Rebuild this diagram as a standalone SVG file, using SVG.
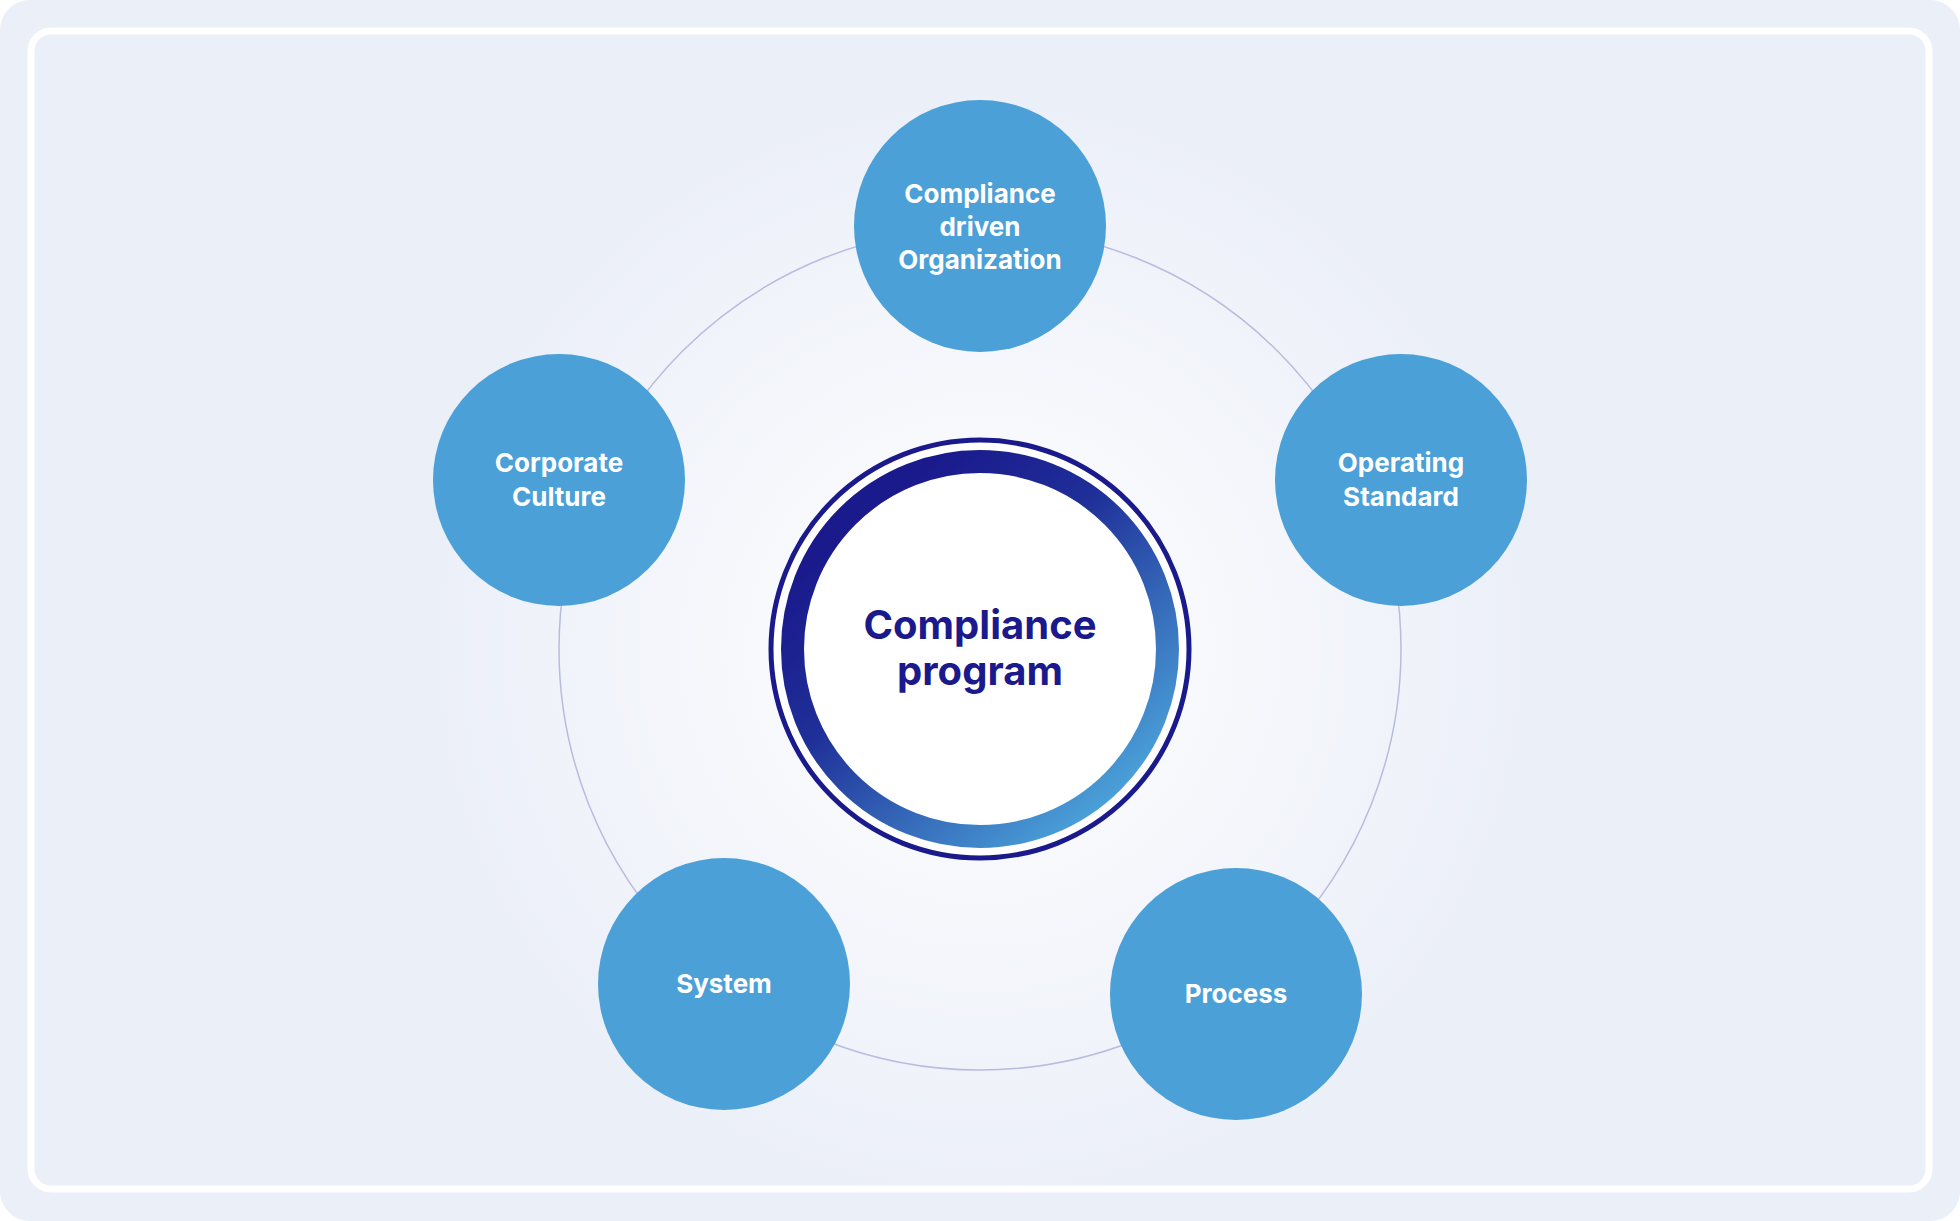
<svg xmlns="http://www.w3.org/2000/svg" width="1960" height="1221" viewBox="0 0 1960 1221">
<defs>
<radialGradient id="bg" cx="980" cy="649" r="560" gradientUnits="userSpaceOnUse">
<stop offset="0" stop-color="#ffffff"/><stop offset="1" stop-color="#ebeff8"/>
</radialGradient>
<linearGradient id="ring" x1="0.2" y1="0.15" x2="0.85" y2="0.9">
<stop offset="0" stop-color="#1a1a8c"/><stop offset="0.35" stop-color="#1f2f98"/><stop offset="1" stop-color="#4aa0d8"/>
</linearGradient>
<style>
.node{fill:#4ba0d7}
.nt{font-family:Inter,"Liberation Sans",sans-serif;font-weight:700;font-size:26px;fill:#fff;text-anchor:middle}
.ct{font-family:Inter,"Liberation Sans",sans-serif;font-weight:700;font-size:40px;fill:#1a1a8c;text-anchor:middle}
</style>
</defs>
<rect width="1960" height="1221" rx="30" fill="#ebeff8"/>
<rect x="31" y="31" width="1898" height="1158" rx="20" fill="url(#bg)" stroke="#ffffff" stroke-width="7"/>
<g id="connectors">
<circle cx="980" cy="649" r="421" fill="none" stroke="#b8bce0" stroke-width="1.5"/>
</g>
<g id="center">
<circle cx="980" cy="649" r="209" fill="#fff" stroke="#1a1a8c" stroke-width="5"/>
<circle cx="980" cy="649" r="187.5" fill="#fff" stroke="url(#ring)" stroke-width="23"/>
<text class="ct" x="980" y="639">Compliance</text>
<text class="ct" x="980" y="685">program</text>
</g>
<g id="n-org"><circle class="node" cx="980" cy="226" r="126"/>
<text class="nt" x="980" y="203">Compliance</text><text class="nt" x="980" y="236">driven</text><text class="nt" x="980" y="269">Organization</text></g>
<g id="n-op"><circle class="node" cx="1401" cy="480" r="126"/>
<text class="nt" x="1401" y="472">Operating</text><text class="nt" x="1401" y="506">Standard</text></g>
<g id="n-cc"><circle class="node" cx="559" cy="480" r="126"/>
<text class="nt" x="559" y="472">Corporate</text><text class="nt" x="559" y="506">Culture</text></g>
<g id="n-sys"><circle class="node" cx="724" cy="984" r="126"/>
<text class="nt" x="724" y="993">System</text></g>
<g id="n-proc"><circle class="node" cx="1236" cy="994" r="126"/>
<text class="nt" x="1236" y="1003">Process</text></g>
</svg>
